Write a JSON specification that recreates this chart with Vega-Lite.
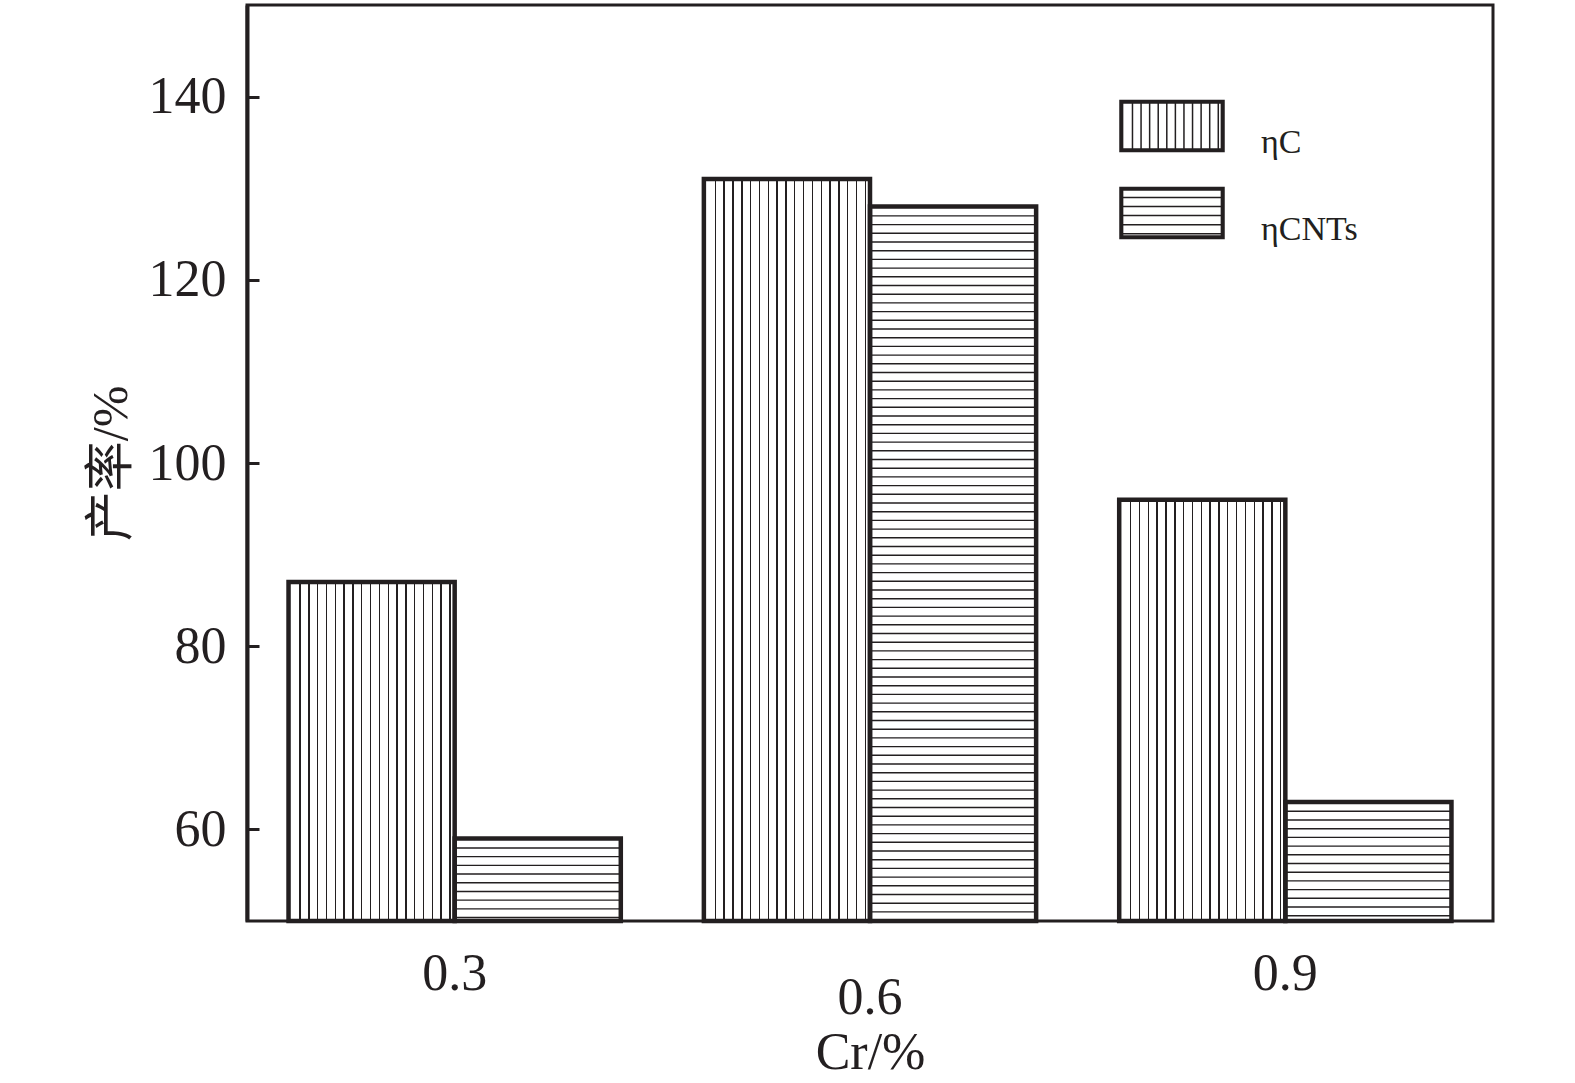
{
  "$schema": "https://vega.github.io/schema/vega-lite/v6.json",
  "autosize": "none",
  "padding": {"left": 247, "top": 5, "right": 82, "bottom": 162},
  "width": 1246,
  "height": 916,
  "background": "white",
  "config": {
    "view": {"stroke": "#231f20", "strokeWidth": 3},
    "font": "Liberation Serif"
  },
  "data": {
    "values": [
      {"cr": "0.3", "series": "C", "value": 87},
      {"cr": "0.3", "series": "CNTs", "value": 59},
      {"cr": "0.6", "series": "C", "value": 131},
      {"cr": "0.6", "series": "CNTs", "value": 128},
      {"cr": "0.9", "series": "C", "value": 96},
      {"cr": "0.9", "series": "CNTs", "value": 63}
    ]
  },
  "encoding": {
    "x": {
      "field": "cr",
      "type": "nominal",
      "scale": {"paddingInner": 0.2, "paddingOuter": 0.1},
      "axis": {
        "title": "Cr/%",
        "titleFont": "Liberation Serif",
        "titleFontSize": 52,
        "titleFontWeight": "normal",
        "titleColor": "#231f20",
        "titlePadding": 4,
        "labelFont": "Liberation Serif",
        "labelFontSize": 52,
        "labelColor": "#231f20",
        "labelAngle": 0,
        "labelPadding": 27,
        "labelExpr": "datum.label == '0.6' ? ['', '0.6'] : datum.label",
        "labelLineHeight": 24,
        "labelOverlap": false,
        "ticks": false,
        "domain": false
      }
    },
    "xOffset": {
      "field": "series",
      "type": "nominal",
      "scale": {"domain": ["C", "CNTs"], "paddingInner": 0, "paddingOuter": 0}
    },
    "y": {
      "field": "value",
      "type": "quantitative",
      "scale": {"domain": [50, 150], "nice": false, "zero": false},
      "axis": {
        "title": "产率/%",
        "titleFont": "Liberation Serif, Noto Sans CJK SC",
        "titleFontSize": 50,
        "titleFontWeight": "normal",
        "titleColor": "#231f20",
        "titlePadding": 12,
        "values": [60, 80, 100, 120, 140],
        "labelFont": "Liberation Serif",
        "labelFontSize": 52,
        "labelColor": "#231f20",
        "labelPadding": 33,
        "tickSize": -12,
        "tickWidth": 3,
        "tickColor": "#231f20",
        "domainWidth": 4,
        "domainColor": "#231f20",
        "grid": false
      }
    }
  },
  "layer": [
    {
      "transform": [{"filter": "datum.series == 'C'"}],
      "mark": {
        "type": "bar",
        "stroke": "#231f20",
        "strokeWidth": 4.5,
        "fill": {
          "gradient": "linear",
          "x1": 0, "y1": 0, "x2": 1, "y2": 0,
          "stops": [
            {"offset": 0, "color": "white"},
            {"offset": 0.0650, "color": "white"}, {"offset": 0.0650, "color": "#231f20"}, {"offset": 0.0734, "color": "#231f20"}, {"offset": 0.0734, "color": "white"},
            {"offset": 0.1181, "color": "white"}, {"offset": 0.1181, "color": "#231f20"}, {"offset": 0.1265, "color": "#231f20"}, {"offset": 0.1265, "color": "white"},
            {"offset": 0.1712, "color": "white"}, {"offset": 0.1712, "color": "#231f20"}, {"offset": 0.1796, "color": "#231f20"}, {"offset": 0.1796, "color": "white"},
            {"offset": 0.2243, "color": "white"}, {"offset": 0.2243, "color": "#231f20"}, {"offset": 0.2327, "color": "#231f20"}, {"offset": 0.2327, "color": "white"},
            {"offset": 0.2774, "color": "white"}, {"offset": 0.2774, "color": "#231f20"}, {"offset": 0.2858, "color": "#231f20"}, {"offset": 0.2858, "color": "white"},
            {"offset": 0.3305, "color": "white"}, {"offset": 0.3305, "color": "#231f20"}, {"offset": 0.3389, "color": "#231f20"}, {"offset": 0.3389, "color": "white"},
            {"offset": 0.3836, "color": "white"}, {"offset": 0.3836, "color": "#231f20"}, {"offset": 0.3920, "color": "#231f20"}, {"offset": 0.3920, "color": "white"},
            {"offset": 0.4367, "color": "white"}, {"offset": 0.4367, "color": "#231f20"}, {"offset": 0.4451, "color": "#231f20"}, {"offset": 0.4451, "color": "white"},
            {"offset": 0.4898, "color": "white"}, {"offset": 0.4898, "color": "#231f20"}, {"offset": 0.4982, "color": "#231f20"}, {"offset": 0.4982, "color": "white"},
            {"offset": 0.5429, "color": "white"}, {"offset": 0.5429, "color": "#231f20"}, {"offset": 0.5513, "color": "#231f20"}, {"offset": 0.5513, "color": "white"},
            {"offset": 0.5960, "color": "white"}, {"offset": 0.5960, "color": "#231f20"}, {"offset": 0.6044, "color": "#231f20"}, {"offset": 0.6044, "color": "white"},
            {"offset": 0.6491, "color": "white"}, {"offset": 0.6491, "color": "#231f20"}, {"offset": 0.6575, "color": "#231f20"}, {"offset": 0.6575, "color": "white"},
            {"offset": 0.7022, "color": "white"}, {"offset": 0.7022, "color": "#231f20"}, {"offset": 0.7106, "color": "#231f20"}, {"offset": 0.7106, "color": "white"},
            {"offset": 0.7553, "color": "white"}, {"offset": 0.7553, "color": "#231f20"}, {"offset": 0.7637, "color": "#231f20"}, {"offset": 0.7637, "color": "white"},
            {"offset": 0.8084, "color": "white"}, {"offset": 0.8084, "color": "#231f20"}, {"offset": 0.8168, "color": "#231f20"}, {"offset": 0.8168, "color": "white"},
            {"offset": 0.8615, "color": "white"}, {"offset": 0.8615, "color": "#231f20"}, {"offset": 0.8699, "color": "#231f20"}, {"offset": 0.8699, "color": "white"},
            {"offset": 0.9146, "color": "white"}, {"offset": 0.9146, "color": "#231f20"}, {"offset": 0.9230, "color": "#231f20"}, {"offset": 0.9230, "color": "white"},
            {"offset": 0.9677, "color": "white"}, {"offset": 0.9677, "color": "#231f20"}, {"offset": 0.9761, "color": "#231f20"}, {"offset": 0.9761, "color": "white"},
            {"offset": 1, "color": "white"}
          ]
        }
      },
      "encoding": {"y2": {"datum": 50}}
    },
    {
      "transform": [{"filter": "datum.series == 'CNTs'"}],
      "mark": {
        "type": "rule",
        "color": "#231f20",
        "strokeWidth": 166,
        "strokeCap": "butt",
        "strokeDash": [1.4, 7.3]
      },
      "encoding": {"y2": {"datum": 50}}
    },
    {
      "transform": [{"filter": "datum.series == 'CNTs'"}],
      "mark": {
        "type": "bar",
        "fill": "white",
        "fillOpacity": 0,
        "stroke": "#231f20",
        "strokeWidth": 4.5
      },
      "encoding": {"y2": {"datum": 50}}
    },
    {
      "mark": {
        "type": "point",
        "filled": false,
        "color": "#231f20",
        "strokeWidth": 1.5,
        "opacity": 0
      },
      "encoding": {
        "shape": {
          "field": "series",
          "type": "nominal",
          "scale": {
            "domain": ["C", "CNTs"],
            "range": [
              "M-1,-0.49H1V0.49H-1Z M-0.975,-0.465H0.975V0.465H-0.975Z M-0.95,-0.44H0.95V0.44H-0.95Z M-0.76,-0.44V0.44 M-0.595,-0.44V0.44 M-0.43,-0.44V0.44 M-0.265,-0.44V0.44 M-0.1,-0.44V0.44 M0.065,-0.44V0.44 M0.23,-0.44V0.44 M0.395,-0.44V0.44 M0.56,-0.44V0.44 M0.725,-0.44V0.44 M0.89,-0.44V0.44",
              "M-1,-0.49H1V0.49H-1Z M-0.975,-0.465H0.975V0.465H-0.975Z M-0.95,-0.44H0.95V0.44H-0.95Z M-0.95,-0.3H0.95 M-0.95,-0.125H0.95 M-0.95,0.05H0.95 M-0.95,0.225H0.95 M-0.95,0.4H0.95"
            ]
          },
          "legend": {
            "title": null,
            "orient": "none",
            "legendX": 872,
            "legendY": 68,
            "padding": 0,
            "symbolSize": 10816,
            "symbolOpacity": 1,
            "symbolFillColor": "white",
            "symbolStrokeColor": "#231f20",
            "symbolStrokeWidth": 1.5,
            "labelFont": "Liberation Serif",
            "labelFontSize": 34,
            "labelColor": "#231f20",
            "labelBaseline": "top",
            "labelOffset": 36,
            "rowPadding": 0,
            "labelExpr": "datum.label == 'C' ? 'ηC' : 'ηCNTs'"
          }
        }
      }
    }
  ]
}
